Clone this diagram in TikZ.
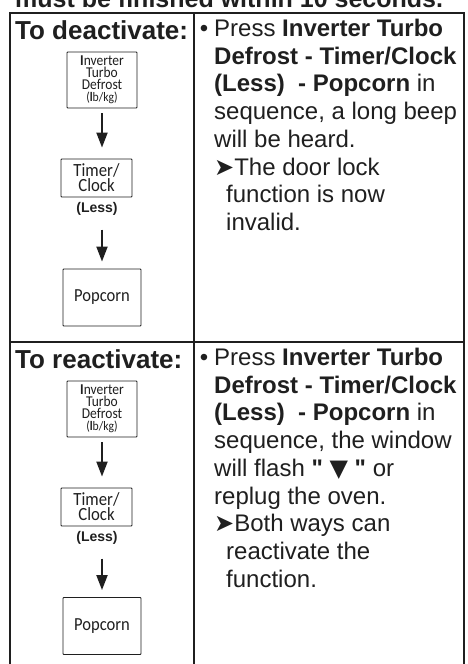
\documentclass[tikz,border=0pt]{standalone}
\usepackage{fontspec}
\setmainfont{Liberation Sans}[Ligatures=TeXOff]
\newfontfamily\btnfont{Carlito}[FakeStretch=0.9]
\newfontfamily\symfont{DejaVu Sans}
\usepackage{tikz}
\usetikzlibrary{calc}
\usetikzlibrary{arrows.meta}
\definecolor{ink}{gray}{0.12}
\tikzstyle{frameline}=[draw=ink, line width=1.8pt]
\tikzstyle{keynode}=[draw=ink, line width=0.9pt, shape=rectangle, rounded corners=0.8pt, fill=white, inner sep=0pt, align=center, text=ink]
\tikzstyle{headnode}=[text=ink, inner sep=0pt, anchor=base west, font=\bfseries\fontsize{26}{28}\selectfont]
\tikzstyle{bodynode}=[text=ink, inner sep=0pt, anchor=north west, align=left, font=\fontsize{24}{27.7}\selectfont]
\tikzstyle{lessnode}=[text=ink, inner sep=0pt, font=\bfseries\fontsize{14}{16}\selectfont]
\tikzstyle{steparrow}=[-{Triangle[length=15pt, width=11pt]}, line width=2pt, color=ink]

\begin{document}
\begin{tikzpicture}[x=1pt, y=-1pt]
\useasboundingbox (0,0) rectangle (468,664);

\begin{scope}
\clip (0,0) rectangle (468,664);
\node [text=ink, inner sep=0pt, anchor=base west, font=\bfseries\fontsize{25}{27}\selectfont] (cutline) at (15,7) {must be finished within 10 seconds.};
\end{scope}

\draw [frameline] (10,670) -- (10,13) -- (464,13) -- (464,670);
\draw [frameline] (194,13) -- (194,670);
\draw [frameline] (10,342) -- (464,342);

\node [headnode] (deacthead) at (15,39) {To deactivate:};
\node [keynode, minimum width=70pt, minimum height=56pt, font=\btnfont\fontsize{15}{12}\selectfont] (invert1) at (102,80) {{\bfseries I}nverter\\Turbo\\Defrost\\{\fontsize{13}{12}\selectfont(\textbf{l}b/kg)}};
\node [keynode, minimum width=71pt, minimum height=38pt, font=\btnfont\fontsize{18.6}{15}\selectfont] (timer1) at (96.5,178) {Timer/\\Clock};
\node [lessnode] (less1) at (97,209) {(Less)};
\node [keynode, minimum width=78pt, minimum height=57pt, font=\btnfont\fontsize{18.4}{18}\selectfont] (popcorn1) at (102,297.5) {Popcorn};
\node [bodynode] (deacttext) at (214,19) {\llap{•\hspace{6pt}}Press \textbf{Inverter Turbo}\\
\textbf{Defrost - Timer/Clock}\\
\textbf{(Less)\ \ - Popcorn} in\\
sequence, a long beep\\
will be heard.\\
{\symfont ➤}The door lock\\
\hspace*{12pt}function is now\\
\hspace*{12pt}invalid.};

\node [headnode] (reacthead) at (15,368) {To reactivate:};
\node [keynode, minimum width=70pt, minimum height=56pt, font=\btnfont\fontsize{15}{12}\selectfont] (invert2) at (102,409) {{\bfseries I}nverter\\Turbo\\Defrost\\{\fontsize{13}{12}\selectfont(\textbf{l}b/kg)}};
\node [keynode, minimum width=71pt, minimum height=38pt, font=\btnfont\fontsize{18.6}{15}\selectfont] (timer2) at (96.5,507) {Timer/\\Clock};
\node [lessnode] (less2) at (97,538) {(Less)};
\node [keynode, minimum width=78pt, minimum height=57pt, font=\btnfont\fontsize{18.4}{18}\selectfont] (popcorn2) at (102,626) {Popcorn};
\node [bodynode] (reacttext) at (214,348) {\llap{•\hspace{6pt}}Press \textbf{Inverter Turbo}\\
\textbf{Defrost - Timer/Clock}\\
\textbf{(Less)\ \ - Popcorn} in\\
sequence, the window\\
will flash \textbf{" {\symfont\fontsize{24}{26}\selectfont ▼} "} or\\
replug the oven.\\
{\symfont ➤}Both ways can\\
\hspace*{12pt}reactivate the\\
\hspace*{12pt}function.};

\draw [steparrow, shorten <=5pt, shorten >=11pt] (invert1.south) -- (invert1.south |- timer1.north);
\draw [steparrow, shorten <=14pt, shorten >=7pt] (popcorn1.north |- less1.south) -- (popcorn1.north);
\draw [steparrow, shorten <=5pt, shorten >=11pt] (invert2.south) -- (invert2.south |- timer2.north);
\draw [steparrow, shorten <=14pt, shorten >=7pt] (popcorn2.north |- less2.south) -- (popcorn2.north);
\end{tikzpicture}
\end{document}
